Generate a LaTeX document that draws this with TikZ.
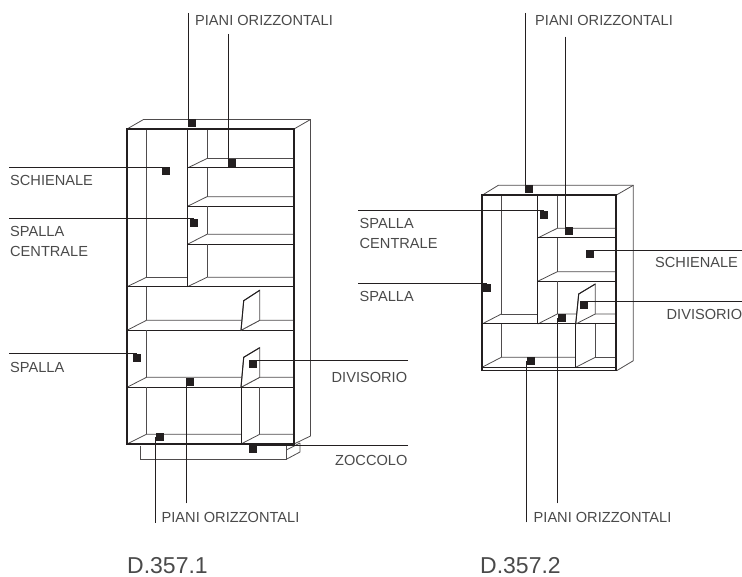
\documentclass[tikz,border=0pt]{standalone}
\usepackage{fontspec}
\setmainfont{Liberation Sans}
\definecolor{inkblack}{HTML}{231F20}
\definecolor{inkgrey}{HTML}{4A4A4A}
\tikzset{
  frontline/.style={draw=inkblack,line width=1.6pt},
  shelfline/.style={draw=inkblack,line width=1pt},
  backline/.style={draw=inkblack!80,line width=0.8pt},
  leader/.style={draw=inkblack,line width=0.6pt},
  marker/.style={fill=inkblack,minimum size=8pt,inner sep=0pt},
  tag/.style={font=\fontsize{14.6}{20}\selectfont,text=inkgrey,inner sep=0pt,anchor=base west,align=left},
  code/.style={font=\fontsize{23}{26}\selectfont,text=inkgrey,inner sep=0pt,anchor=base west}
}
\begin{document}
\begin{tikzpicture}[x=1pt,y=-1pt]
\useasboundingbox (0,0) rectangle (742,577);
% D.357.1
\draw [backline] (127,129) -- (143.5,119.5) -- (310.5,119.5) -- (310.5,436) -- (294,444);
\draw [backline] (294,129) -- (310.5,119.5);
\draw [backline] (146.5,129) -- (146.5,277.3) -- (187.5,277.3);
\draw [backline] (127,286.7) -- (146.5,277.3);
\foreach \i/\j in {168/158.5, 206.3/196.7, 244.3/234.3, 286.7/277.3}
{
  \draw [backline] (187.5,\i) -- (207,\j) -- (294,\j);
  \draw [shelfline] (187.5,\i) -- (294,\i);
}
\draw [backline] (207,129) -- (207,158.5);
\draw [backline] (207,168) -- (207,196.7);
\draw [backline] (207,206.3) -- (207,234.3);
\draw [backline] (207,244.3) -- (207,277.3);
\draw [shelfline] (127,287) -- (187.5,287);
\draw [shelfline] (187.5,129) -- (187.5,287);
\foreach \i/\j in {330.3/320.3, 387.3/377.3, 444/434.3}
{
  \draw [backline] (127,\i) -- (146.5,\j) -- (241,\j);
  \draw [backline] (241,\i) -- (259.7,\j) -- (294,\j);
  \draw [shelfline] (127,\i) -- (294,\i);
}
\draw [backline] (146.5,287) -- (146.5,320.3);
\draw [backline] (146.5,330.3) -- (146.5,377.3);
\draw [backline] (146.5,387.3) -- (146.5,434.3);
\foreach \i/\j/\k/\l in {330.3/300.7/290.3/320.3, 387.3/357.3/347.7/377.3}
{
  \filldraw [backline,fill=white] (241,\i) -- (243.7,\j) -- (259.7,\k) -- (259.7,\l) -- cycle;
  \draw [shelfline] (241,\i) -- (243.7,\j) -- (259.7,\k);
}
\draw [shelfline] (241,387.3) -- (241,444);
\draw [backline] (259.7,387.3) -- (259.7,434.3);
\draw [backline] (140.7,445.7) -- (140.7,459.3) -- (286.3,459.3) -- (286.3,445.7);
\draw [backline] (286.3,459.3) -- (300,452) -- (300,443);
\draw [backline] (286.3,450) -- (300,443);
\draw [frontline] (127,129) rectangle (294,444);
% D.357.2
\draw [backline] (482,195.3) -- (498.3,185.3) -- (633.3,185.3) -- (633.3,360.7) -- (616.7,370.7);
\draw [backline] (616,195.3) -- (633.3,185.3);
\draw [backline] (501.3,195.3) -- (501.3,314) -- (537.7,314);
\draw [backline] (482,324) -- (501.3,314);
\foreach \i/\j in {238/228.3, 281.3/271.7, 324/314}
{
  \draw [backline] (537.7,\i) -- (557.3,\j) -- (616,\j);
  \draw [shelfline] (537.7,\i) -- (616,\i);
}
\draw [backline] (557.3,195.3) -- (557.3,228.3);
\draw [backline] (557.3,238) -- (557.3,271.7);
\draw [backline] (557.3,281.3) -- (557.3,314);
\draw [shelfline] (537.7,195.3) -- (537.7,324);
\draw [shelfline] (482,324) -- (616,324);
\draw [backline] (482,367.3) -- (501.3,357.3) -- (575.7,357.3);
\draw [backline] (501.3,324) -- (501.3,357.3);
\filldraw [backline,fill=white] (575.7,324) -- (578.7,294) -- (595.3,284) -- (595.3,314) -- cycle;
\draw [shelfline] (575.7,324) -- (578.7,294) -- (595.3,284);
\draw [shelfline] (575.7,324) -- (575.7,367.3);
\draw [backline] (595.3,324) -- (595.3,357.3) -- (616,357.3);
\draw [backline] (575.7,367.3) -- (595.3,357.3);
\draw [shelfline] (482,367.3) -- (616,367.3);
\draw [frontline] (482,195.3) rectangle (616,370.7);
% markers
\foreach \name/\x/\y in {a1/192/123, a2/232/162.7, a3/166/171, a4/194/223, a5/137/358,
  a6/253/364, a7/190.3/381.7, a8/159.7/437, a9/253/449, b1/529/189, b2/569/230.7,
  b3/544/215, b4/590/254, b5/487/287.7, b6/584/305, b7/561.7/318, b8/531/361}
{
  \node [marker] (\name) at (\x,\y) {};
}
% labels
\node [tag] (pianiA) at (195,26) {PIANI ORIZZONTALI};
\node [tag] (schienaleA) at (10,186) {SCHIENALE};
\node [tag] (centraleA) at (10,257) {SPALLA\\CENTRALE};
\node [tag] (spallaA) at (10,373) {SPALLA};
\node [tag] (divisorioA) at (331.5,382) {DIVISORIO};
\node [tag] (zoccolo) at (335,465) {ZOCCOLO};
\node [tag] (pianiB) at (161.5,522) {PIANI ORIZZONTALI};
\node [code] (codeA) at (127,573.5) {D.357.1};
\node [tag] (pianiC) at (535,26) {PIANI ORIZZONTALI};
\node [tag] (centraleB) at (359.5,249) {SPALLA\\CENTRALE};
\node [tag] (spallaB) at (359.5,301.7) {SPALLA};
\node [tag] (schienaleB) at (655,267.7) {SCHIENALE};
\node [tag] (divisorioB) at (666.5,319.3) {DIVISORIO};
\node [tag] (pianiD) at (533.5,522) {PIANI ORIZZONTALI};
\node [code] (codeB) at (480,573.5) {D.357.2};
% leaders
\foreach \name/\x/\y/\to in {l1/188.7/13/a1, l2/228/34/a2, l3/186.3/503.3/a7, l4/155/522.7/a8,
  l5/525.7/13/b1, l6/565/36.7/b2, l7/557.3/503.3/b7, l8/526.3/522.3/b8}
{
  \coordinate (\name) at (\x,\y);
  \draw [leader] (\name) -- (\name |- \to);
}
\foreach \name/\x/\y/\to in {m1/9/167.7/a3, m2/9/218.5/a4, m3/9/353.7/a5, m4/408/360/a6,
  m5/408/445/a9, m6/358/210.7/b3, m7/358/283.7/b5, m8/742/250/b4, m9/742/301.7/b6}
{
  \coordinate (\name) at (\x,\y);
  \draw [leader] (\name) -- (\name -| \to);
}
\end{tikzpicture}
\end{document}
